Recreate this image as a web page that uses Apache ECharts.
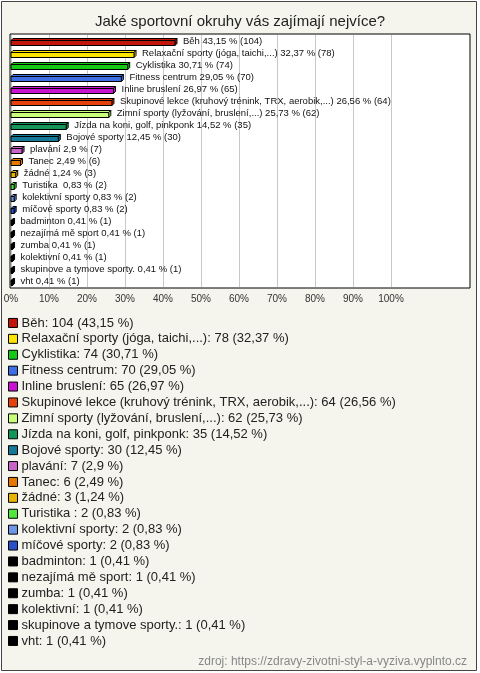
<!DOCTYPE html>
<html><head><meta charset="utf-8">
<script src="https://cdn.jsdelivr.net/npm/echarts@6/dist/echarts.min.js"></script>
<style>html,body{margin:0;padding:0;background:#fff;}#c{width:480px;height:673px;}</style>
</head><body><div id="c"></div>
<script>
const categories = ["Běh","Relaxační sporty (jóga, taichi,...)","Cyklistika","Fitness centrum","Inline bruslení","Skupinové lekce (kruhový trénink, TRX, aerobik,...)","Zimní sporty (lyžování, bruslení,...)","Jízda na koni, golf, pinkponk","Bojové sporty","plavání","Tanec","žádné","Turistika ","kolektivní sporty","míčové sporty","badminton","nezajímá mě sport","zumba","kolektivní","skupinove a tymove sporty.","vht"];
const counts = [104,78,74,70,65,64,62,35,30,7,6,3,2,2,2,1,1,1,1,1,1];
const percents = [43.15,32.37,30.71,29.05,26.97,26.56,25.73,14.52,12.45,2.9,2.49,1.24,0.83,0.83,0.83,0.41,0.41,0.41,0.41,0.41,0.41];
const colors = ["#c2160c","#ffe400","#14c814","#3c6ee6","#c814d2","#e6400c","#c8ff78","#14965a","#147896","#c864c8","#e67800","#e6b400","#50e63c","#6e96e6","#2850c8","#000000","#000000","#000000","#000000","#000000","#000000"];
const tickLabels = ["0%","10%","20%","30%","40%","50%","60%","70%","80%","90%","100%"];

const fmt = p => String(p).replace('.', ',');
const FONT = '"Liberation Sans", Arial, sans-serif';

function renderItem(params, api) {
  const v = api.value(0), c = api.value(1);
  const p0 = api.coord([0, c]);
  const p1 = api.coord([v, c]);
  const color = api.visual('color');
  const h = 5, d = 2;
  const x0 = p0[0], x1 = p1[0];
  const y = Math.round(p0[1] - h / 2 + 1) + 0.5;
  const i = c;
  const st = {fill: color, stroke: '#000', lineWidth: 1};
  return {
    type: 'group',
    children: [
      {type: 'polygon', shape: {points: [[x0, y], [x0 + d, y - d], [x1 + d, y - d], [x1, y]]}, style: st},
      {type: 'polygon', shape: {points: [[x1, y], [x1 + d, y - d], [x1 + d, y - d + h], [x1, y + h]]}, style: st},
      {type: 'rect', shape: {x: x0, y: y, width: Math.max(x1 - x0, 0.5), height: h}, style: st},
      {type: 'text', x: x1 + d + 6, y: p0[1], style: {
        text: categories[i] + ' ' + fmt(percents[i]) + ' % (' + counts[i] + ')',
        font: '9.5px ' + FONT, fill: '#111', verticalAlign: 'middle', align: 'left'}}
    ]
  };
}

const series = categories.map((name, i) => ({
  type: 'custom',
  name: name,
  xAxisIndex: 1, yAxisIndex: 1,
  itemStyle: {color: colors[i]},
  renderItem: renderItem,
  encode: {x: 0, y: 1},
  data: [[percents[i], i]],
  clip: false,
  silent: true
}));

const chart = echarts.init(document.getElementById('c'), null, {renderer: 'canvas'});
chart.setOption({
  animation: false,
  backgroundColor: 'transparent',
  graphic: [{
    type: 'rect', z: -10, silent: true,
    shape: {x: 1.5, y: 1.5, width: 475, height: 669},
    style: {fill: '#f5f5ee', stroke: '#444', lineWidth: 1}
  }],
  title: [{
    text: 'Jaké sportovní okruhy vás zajímají nejvíce?',
    left: 'center', top: 9,
    textStyle: {fontFamily: FONT, fontSize: 15, fontWeight: 'normal', color: '#222'}
  }, {
    text: 'zdroj: https://zdravy-zivotni-styl-a-vyziva.vyplnto.cz',
    right: 8, top: 651,
    textStyle: {fontFamily: FONT, fontSize: 12, fontWeight: 'normal', color: '#888'}
  }],
  grid: [
    {show: true, left: 10, top: 34, width: 460, height: 254, backgroundColor: '#fff', borderColor: '#000', borderWidth: 1},
    {left: 11, top: 35, width: 380, height: 252}
  ],
  xAxis: [
    {gridIndex: 0, type: 'value', show: false},
    {gridIndex: 1, type: 'value', min: 0, max: 100, interval: 10,
     axisLine: {show: false}, axisTick: {show: false},
     splitLine: {show: true, lineStyle: {color: '#c8c8c8', width: 1}},
     axisLabel: {margin: 7, fontFamily: FONT, fontSize: 10, color: '#333',
       formatter: (v) => tickLabels[Math.round(v / 10)]}}
  ],
  yAxis: [
    {gridIndex: 0, type: 'value', show: false},
    {gridIndex: 1, type: 'category', data: categories, inverse: true,
     axisLine: {show: false}, axisTick: {show: false}, axisLabel: {show: false}, splitLine: {show: false}}
  ],
  legend: {
    orient: 'vertical', left: 3, top: 310, padding: 5,
    icon: 'rect', itemWidth: 9, itemHeight: 9, itemGap: 0,
    selectedMode: false,
    itemStyle: {borderColor: '#000', borderWidth: 1},
    data: categories,
    textStyle: {fontFamily: FONT, fontSize: 13, color: '#222', lineHeight: 15.9, padding: [0, 0, 0, -1]},
    formatter: (name) => {
      const i = categories.indexOf(name);
      return name + ': ' + counts[i] + ' (' + fmt(percents[i]) + ' %)';
    }
  },
  series: series
});
</script></body></html>
